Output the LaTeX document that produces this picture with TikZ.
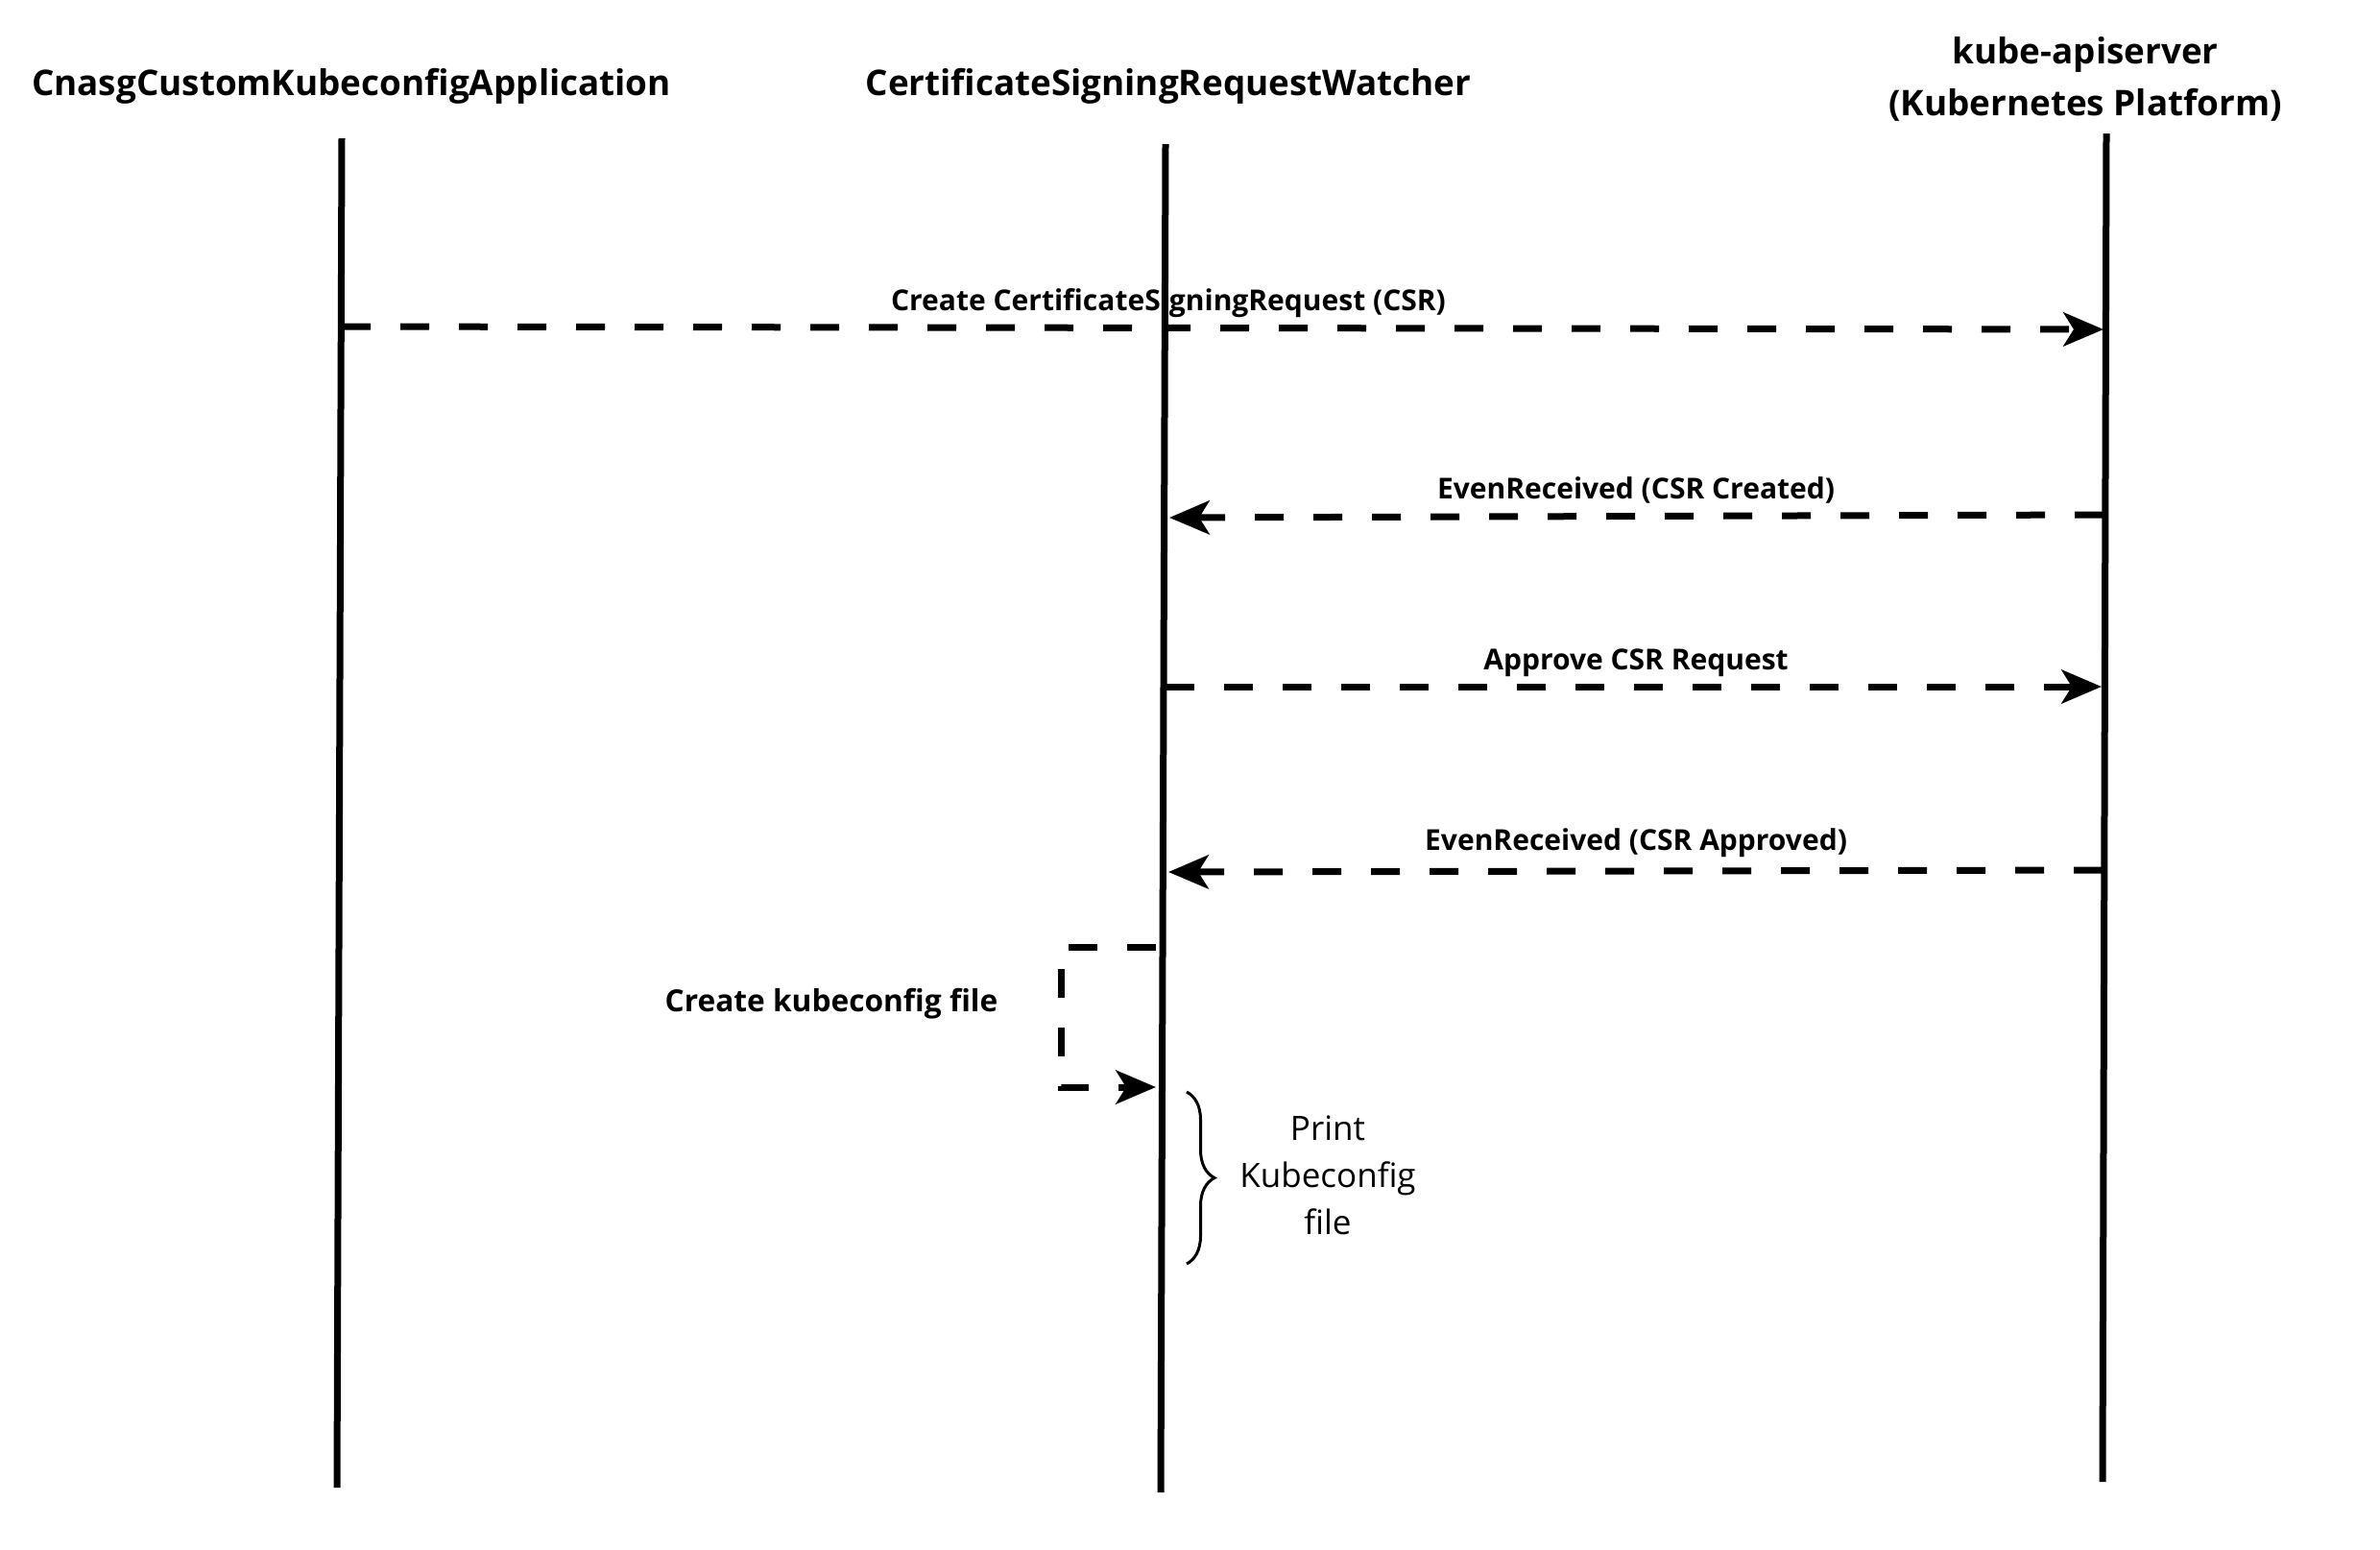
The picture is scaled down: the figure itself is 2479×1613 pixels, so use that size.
\documentclass[tikz,border=0pt]{standalone}
\usepackage{fontspec}
\setmainfont{Open Sans}
\usetikzlibrary{positioning,arrows.meta,decorations.pathreplacing}
\tikzset{
    lane head/.style={
        font=\bfseries\fontsize{11.05}{16.2}\selectfont,
        align=center,
        inner sep=0pt
    },
    lane line/.style={line width=2.1pt, line cap=butt},
    msg/.style={
        line width=2.1pt,
        dash pattern=on 9pt off 9.3pt,
        -{Stealth[length=12.5pt,width=10.5pt,inset=3.2pt]}
    },
    msg label/.style={font=\bfseries\fontsize{9}{11}\selectfont, inner sep=0pt},
    note label/.style={font=\fontsize{10.5}{14.7}\selectfont, align=center, inner sep=0pt}
}

\begin{document}
\begin{tikzpicture}[x=0.3pt, y=-0.3pt]
\useasboundingbox (0,0) rectangle (2479,1613);

% lane heads
\node[lane head] (app) at (366,90) {CnasgCustomKubeconfigApplication};
\node[lane head] (watcher) at (1217,90) {CertificateSigningRequestWatcher};
\node[lane head] (apiserver) at (2172,82) {kube-apiserver\\(Kubernetes Platform)};

% lifelines
\coordinate (app-top) at (356,144);
\coordinate (app-bot) at (351,1549);
\coordinate (watcher-top) at (1214,150);
\coordinate (watcher-bot) at (1209,1554);
\coordinate (api-top) at (2194,139);
\coordinate (api-bot) at (2190,1543);
\draw[lane line] (app-top) -- (app-bot);
\draw[lane line] (watcher-top) -- (watcher-bot);
\draw[lane line] (api-top) -- (api-bot);

% message end points
\coordinate (m1-from) at (356,340);
\coordinate (m1-to) at (2191,343);
\coordinate (m2-from) at (2191,536);
\coordinate (m2-to) at (1218,539);
\coordinate (m3-from) at (1214,715);
\coordinate (m3-to) at (2189,715);
\coordinate (m4-from) at (2190,906);
\coordinate (m4-to) at (1217,908);
\coordinate (loop-from) at (1204,986);
\coordinate (loop-to) at (1204,1132);

% messages
\draw[msg] (m1-from) -- (m1-to);
\node[msg label] (m1) at (1217,316) {Create CertificateSigningRequest (CSR)};

\draw[msg] (m2-from) -- (m2-to);
\node[msg label] (m2) at (1704,510) {EvenReceived (CSR Created)};

\draw[msg] (m3-from) -- (m3-to);
\node[msg label] (m3) at (1704,690) {Approve CSR Request};

\draw[msg] (m4-from) -- (m4-to);
\node[msg label] (m4) at (1704,878) {EvenReceived (CSR Approved)};

% self call
\draw[msg] (loop-from) -- (1105,986) -- (1105,1132) -- (loop-to);
\node[msg label, font=\bfseries\fontsize{9.5}{11}\selectfont] (m5) at (866,1045) {Create kubeconfig file};

% print note
\coordinate (brace-top) at (1236,1137);
\coordinate (brace-bot) at (1236,1316);
\draw[line width=0.9pt, decorate, decoration={brace, amplitude=8.7pt}] (brace-top) -- (brace-bot);
\node[note label] (print) at (1383,1224) {Print\\Kubeconfig\\file};

\end{tikzpicture}
\end{document}
